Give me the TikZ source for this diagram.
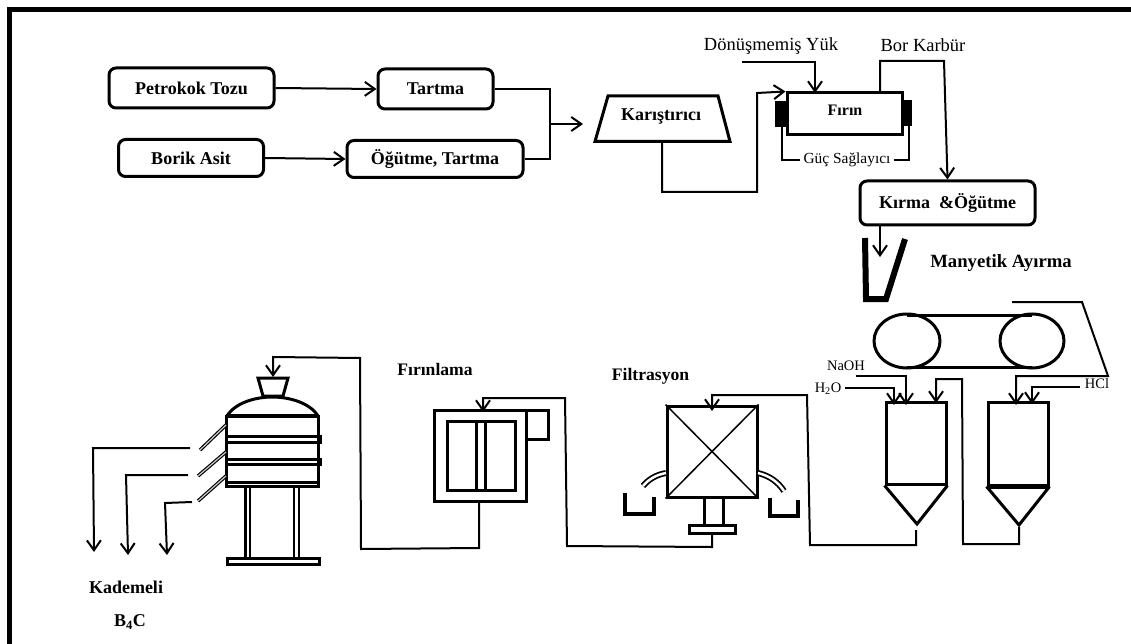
\documentclass[tikz,border=0pt]{standalone}
\usepackage{fontspec}
\setmainfont{Liberation Serif}
\usetikzlibrary{arrows.meta,shapes.geometric}
\begin{document}
\begin{tikzpicture}[x=1pt,y=-1pt,
 flow/.style={line width=2pt,-{Straight Barb[length=10pt,width=14pt,line width=2pt]}},
 pipe/.style={line width=2pt},
 stepbox/.style={draw,line width=3pt,rounded corners=7pt,font=\fontsize{18}{20}\selectfont\bfseries,inner sep=0pt},
 unit/.style={draw,line width=3pt,inner sep=0pt},
 lbl/.style={font=\fontsize{18}{20}\selectfont\bfseries},
 thin lbl/.style={font=\fontsize{18.5}{20}\selectfont},
 small lbl/.style={font=\fontsize{14.5}{16}\selectfont},
 heavy/.style={line width=3pt}]
\useasboundingbox (0,0) rectangle (1131,644);
\draw[line width=5pt] (9.5,644)--(9.5,9.5)--(1131,9.5);
\node[stepbox,minimum width=165pt,minimum height=40pt] (petrokok) at (191.5,88) {Petrokok Tozu};
\node[stepbox,minimum width=115pt,minimum height=40pt] (tartma) at (435.5,89) {Tartma};
\node[stepbox,minimum width=145pt,minimum height=37pt] (borik) at (191,158) {Borik Asit};
\node[stepbox,minimum width=176pt,minimum height=37pt] (ogutme) at (435,159) {Öğütme, Tartma};
\coordinate (joint) at (550,124); \coordinate (mixin) at (583,124);
\draw[flow] (petrokok.east)--(tartma.west); \draw[flow] (borik.east)--(ogutme.west);
\draw[pipe] (tartma.east)-|(joint); \draw[pipe] (ogutme.east)-|(joint); \draw[flow] (joint)--(mixin);
\draw[heavy,line join=miter] (608,96)--(718,96)--(730,141.5)--(595,141.5)--cycle;
\node[lbl] (mixer) at (661,116) {Karıştırıcı};
\node[unit,minimum width=115pt,minimum height=42pt] (firin) at (844.5,114) {};
\node[lbl,font=\fontsize{16}{18}\selectfont\bfseries] (firintxt) at (845,110) {Fırın};
\fill (775,101) rectangle (787,127); \fill (902,100) rectangle (912,126);
\node[small lbl,font=\fontsize{15.4}{16}\selectfont] (guc) at (847,160) {Güç Sağlayıcı};
\draw[pipe] (782,127)|-(guc.west); \draw[pipe] (909,126)|-(guc.east);
\node[thin lbl] (donusmemis) at (771,46) {Dönüşmemiş  Yük};
\node[thin lbl] (bor) at (923,45) {Bor Karbür};
\coordinate (yukstart) at (742,62); \coordinate (yukbend) at (815,62); \coordinate (yukend) at (815,93);
\draw[flow] (yukstart)--(yukbend)--(yukend);
\node[stepbox,minimum width=175pt,minimum height=44pt] (kirma) at (947.5,203) {Kırma \ \&Öğütme};
\coordinate (borout) at (880,93); \coordinate (borup) at (880,61); \coordinate (borright) at (944,61);
\draw[flow] (borout)--(borup)--(borright)--(kirma.north);
\coordinate (mixout) at (662,141.5); \coordinate (mixdown) at (662,192); \coordinate (mixright) at (757,192); \coordinate (mixup) at (757,93);
\draw[flow] (mixout)--(mixdown)--(mixright)--(mixup)--(firin.north west);
\coordinate (hopperin) at (880,225); \coordinate (hopperend) at (880,257);
\draw[flow] (hopperin)--(hopperend);
\draw[line width=6pt,line join=miter] (865,238)--(866,299)--(886,299)--(905,239);
\node[lbl,font=\fontsize{18.7}{20}\selectfont\bfseries] (manyetik) at (1001,263) {Manyetik Ayırma};
\draw[heavy] (907,341) ellipse (33pt and 27pt); \draw[heavy] (1032,341) ellipse (32pt and 27pt);
\draw[heavy] (907,315.5)--(1032,315.5); \draw[heavy] (907,367.5)--(1032,367.5);
\node[unit,minimum width=60pt,minimum height=82pt] (tanka) at (916,443) {};
\node[unit,minimum width=60pt,minimum height=83pt] (tankb) at (1018,443.5) {};
\draw[heavy,line join=miter] (tanka.south west)--(917,524)--(tanka.south east);
\draw[heavy,line join=miter] (tankb.south west)--(1019,525)--(tankb.south east);
\draw[line width=4pt] (tankb.south west)--(tankb.south east);
\node[small lbl] (naoh) at (846,366) {NaOH};
\node[small lbl] (water) at (828,389) {H\textsubscript{2}O};
\node[small lbl] (hcl) at (1097,384) {HCl};
\coordinate (naohs) at (856,376); \coordinate (naohb) at (906,376); \coordinate (naohe) at (906,405);
\draw[flow] (naohs)--(naohb)--(naohe);
\coordinate (waters) at (845,388); \coordinate (waterb) at (894,388); \coordinate (watere) at (894,405);
\draw[flow] (waters)--(waterb)--(watere);
\coordinate (hcls) at (1080,387); \coordinate (hclb) at (1032,387); \coordinate (hcle) at (1032,404);
\draw[flow] (hcls)--(hclb)--(hcle);
\coordinate (belta) at (1012,302); \coordinate (beltb) at (1082,302); \coordinate (beltc) at (1108,376); \coordinate (beltd) at (1016,376); \coordinate (belte) at (1016,405);
\draw[flow] (belta)--(beltb)--(beltc)--(beltd)--(belte);
\coordinate (tipb) at (1019,527); \coordinate (ba) at (1019,544); \coordinate (bb) at (963,544); \coordinate (bc) at (962,379); \coordinate (bd) at (936,379); \coordinate (be) at (936,403);
\draw[flow] (tipb)--(ba)--(bb)--(bc)--(bd)--(be);
\node[unit,minimum width=90pt,minimum height=91pt] (filtre) at (712,451.5) {};
\draw[line width=1.5pt] (filtre.north west)--(filtre.south east); \draw[line width=1.5pt] (filtre.north east)--(filtre.south west);
\coordinate (tipa) at (916,530); \coordinate (aa) at (916,545); \coordinate (ab) at (810,545); \coordinate (ac) at (807,395); \coordinate (ad) at (712,395); \coordinate (ae) at (712,411);
\draw[flow] (tipa)--(aa)--(ab)--(ac)--(ad)--(ae);
\draw[line width=6pt] (666,473) .. controls (655,475) and (648,480) .. (643,486);
\draw[white,line width=2.5pt] (666,473) .. controls (655,475) and (648,480) .. (643,486);
\draw[line width=6pt] (758,473) .. controls (770,476) and (778,482) .. (784,491);
\draw[white,line width=2.5pt] (758,473) .. controls (770,476) and (778,482) .. (784,491);
\draw[line width=4pt,line join=miter] (625,493)--(625,514)--(654,514)--(654,497);
\draw[line width=4pt,line join=miter] (770,498)--(770,516)--(798,516)--(798,500);
\draw[heavy] (704,497)--(704,525); \draw[heavy] (723,497)--(723,525);
\node[draw,line width=3pt,inner sep=0pt,minimum width=46pt,minimum height=8pt] (plate) at (712,529) {};
\node[lbl,font=\fontsize{17.6}{20}\selectfont\bfseries] (filtrasyon) at (650.5,376) {Filtrasyon};
\node[unit,minimum width=92pt,minimum height=91pt] (kurutucu) at (480,455.5) {};
\draw[heavy] (447,421) rectangle (515,490); \draw[heavy] (476,421) rectangle (485,490);
\draw[heavy,line join=miter] (526,410)--(548,410)--(548,439)--(526,439);
\node[lbl,font=\fontsize{17.6}{20}\selectfont\bfseries] (firinlama) at (435,369) {Fırınlama};
\coordinate (ca) at (712,547); \coordinate (cb) at (567,546); \coordinate (cc) at (565,398); \coordinate (cd) at (483,398); \coordinate (ce) at (483,412);
\draw[flow] (plate.south)--(ca)--(cb)--(cc)--(cd)--(ce);
\coordinate (dz) at (479,501); \coordinate (da) at (479,548); \coordinate (db) at (361,549); \coordinate (dc) at (360,358); \coordinate (dd) at (273,357); \coordinate (de) at (273,377);
\draw[flow] (dz)--(da)--(db)--(dc)--(dd)--(de);
\draw[heavy,line join=miter] (258,378)--(288,378)--(283,396)--(263,396)--cycle;
\draw[heavy] (227,416) .. controls (235,403) and (255,397) .. (272,397) .. controls (290,397) and (310,403) .. (318,416);
\draw[heavy] (226,416) rectangle (318,486);
\draw[line width=4pt] (226,416)--(318,416);
\draw[heavy] (226,436) rectangle (320,442); \draw[heavy] (226,459) rectangle (320,464);
\draw[heavy] (226,482)--(318,482);
\draw[heavy] (245,486)--(245,557); \draw[line width=2.5pt] (250,486)--(250,557); \draw[line width=2.5pt] (294,486)--(294,557); \draw[line width=2.5pt] (299,486)--(299,557);
\draw[heavy,fill=white] (227,558) rectangle (319,564);
\draw[line width=3.5pt] (226,425)--(200,450); \draw[gray!40,line width=1.2pt] (226,425)--(200,450);
\draw[line width=3.5pt] (226,452)--(198,476); \draw[gray!40,line width=1.2pt] (226,452)--(198,476);
\draw[line width=3.5pt] (226,476)--(198,501); \draw[gray!40,line width=1.2pt] (226,476)--(198,501);
\coordinate (oa) at (190,448); \coordinate (ob) at (93,448); \coordinate (oc) at (94,552);
\draw[flow] (oa)--(ob)--(oc);
\coordinate (pa) at (188,475); \coordinate (pb) at (126,475); \coordinate (pc) at (128,555);
\draw[flow] (pa)--(pb)--(pc);
\coordinate (qa) at (192,502); \coordinate (qb) at (165,503); \coordinate (qc) at (167,555);
\draw[flow] (qa)--(qb)--(qc);
\node[lbl] (kademeli) at (126,587) {Kademeli};
\node[lbl] (bfourc) at (130,622) {B\textsubscript{4}C};
\end{tikzpicture}
\end{document}
